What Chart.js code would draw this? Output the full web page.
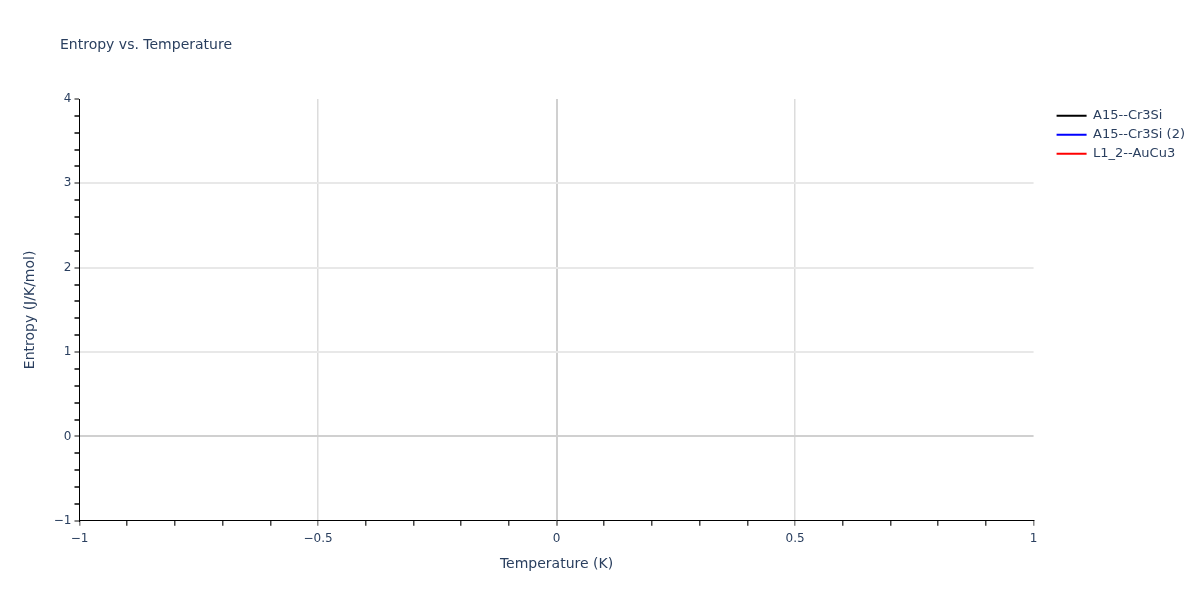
<!DOCTYPE html>
<html>
<head>
<meta charset="utf-8">
<script src="https://cdn.jsdelivr.net/npm/chart.js@4/dist/chart.umd.min.js"></script>
<style>
  html, body { margin: 0; padding: 0; background: #fff; }
  #wrap { width: 1200px; height: 600px; position: relative; }
</style>
</head>
<body>
<div id="wrap"><canvas id="entropy-chart"></canvas></div>
<script>
// series names + colours (the reference has no data points, only legend entries)
const seriesNames = ['A15--Cr3Si', 'A15--Cr3Si (2)', 'L1_2--AuCu3'];
const seriesColors = ['#000000', '#0000ff', '#ff0000'];
const seriesValues = [[], [], []];

// axis ranges
const xRange = [-1, 1];
const yRange = [-1, 4];

const textColor = '#2a3f5f';
const fontFamily = '"DejaVu Sans", Verdana, sans-serif';

function isMajor(v, step) {
    return Math.abs(v / step - Math.round(v / step)) < 1e-6;
}
function fmt(v) {
    let r = Math.round(v * 100) / 100;
    if (r === 0) return '0';
    return (r < 0 ? '\u2212' : '') + Math.abs(r);
}

// plotly-ish title drawn top-left
const titlePlugin = {
    id: 'topTitle',
    afterDraw(chart) {
        const ctx = chart.ctx;
        ctx.save();
        ctx.font = '14px ' + fontFamily;
        ctx.fillStyle = textColor;
        ctx.textBaseline = 'middle';
        ctx.fillText('Entropy vs. Temperature', 60, 45);
        ctx.restore();
    }
};

const ctx = document.getElementById('entropy-chart').getContext('2d');
const myChart = new Chart(ctx, {
    type: 'line',
    data: {
        datasets: seriesNames.map((name, i) => ({
            label: name,
            data: seriesValues[i],
            borderColor: seriesColors[i],
            backgroundColor: seriesColors[i],
            borderWidth: 2,
            pointRadius: 0,
            fill: false,
        })),
    },
    options: {
        responsive: true,
        maintainAspectRatio: false,
        animation: false,
        layout: {
            padding: { top: 99, left: 18, right: 5, bottom: 23 }
        },
        scales: {
            x: {
                type: 'linear',
                min: xRange[0],
                max: xRange[1],
                ticks: {
                    stepSize: 0.1,
                    autoSkip: false,
                    maxRotation: 0,
                    color: textColor,
                    font: { family: fontFamily, size: 12 },
                    padding: 6,
                    callback: (v) => isMajor(v, 0.5) ? fmt(v) : '',
                },
                grid: {
                    drawTicks: true,
                    tickLength: 5,
                    tickColor: (c) => isMajor(c.tick.value, 0.5) ? '#888' : '#444',
                    color: (c) => {
                        const v = c.tick.value;
                        if (Math.abs(v) < 1e-6) return '#d0d0d0';
                        if (Math.abs(v - xRange[0]) < 1e-6 || Math.abs(v - xRange[1]) < 1e-6) return 'rgba(0,0,0,0)';
                        return isMajor(v, 0.5) ? '#dcdcdc' : 'rgba(0,0,0,0)';
                    },
                    lineWidth: (c) => Math.abs(c.tick.value) < 1e-6 ? 2 : 1.5,
                },
                border: { display: true, color: '#000', width: 1 },
                title: {
                    display: true,
                    text: 'Temperature (K)',
                    color: textColor,
                    font: { family: fontFamily, size: 14 },
                    padding: { top: 4 },
                },
            },
            y: {
                type: 'linear',
                min: yRange[0],
                max: yRange[1],
                ticks: {
                    stepSize: 0.2,
                    autoSkip: false,
                    color: textColor,
                    font: { family: fontFamily, size: 12 },
                    padding: 3,
                    callback: (v) => isMajor(v, 1) ? fmt(v) : '',
                },
                grid: {
                    drawTicks: true,
                    tickLength: 5,
                    tickColor: (c) => isMajor(c.tick.value, 1) ? '#888' : '#444',
                    color: (c) => {
                        const v = c.tick.value;
                        if (Math.abs(v) < 1e-6) return '#d0d0d0';
                        if (Math.abs(v - yRange[0]) < 1e-6 || Math.abs(v - yRange[1]) < 1e-6) return 'rgba(0,0,0,0)';
                        return isMajor(v, 1) ? '#e8e8e8' : 'rgba(0,0,0,0)';
                    },
                    lineWidth: 2,
                },
                border: { display: true, color: '#000', width: 1 },
                title: {
                    display: true,
                    text: 'Entropy (J/K/mol)',
                    color: textColor,
                    font: { family: fontFamily, size: 14 },
                    padding: { bottom: 12 },
                },
            },
            // empty spacer between plot area and legend
            gap: {
                type: 'linear',
                position: 'right',
                display: true,
                ticks: { display: false },
                grid: { display: false, drawTicks: false },
                border: { display: false },
                afterFit: (scale) => { scale.width = 17; },
            },
        },
        plugins: {
            legend: {
                display: true,
                position: 'right',
                align: 'start',
                title: {
                    display: true,
                    text: ' ',
                    font: { size: 1 },
                    padding: { top: 0, bottom: 3 },
                },
                labels: {
                    usePointStyle: true,
                    pointStyle: 'line',
                    pointStyleWidth: 30,
                    boxWidth: 30,
                    padding: 6,
                    color: textColor,
                    font: { family: fontFamily, size: 13 },
                },
            },
            tooltip: { enabled: false },
        },
    },
    plugins: [titlePlugin],
});
</script>
</body>
</html>
